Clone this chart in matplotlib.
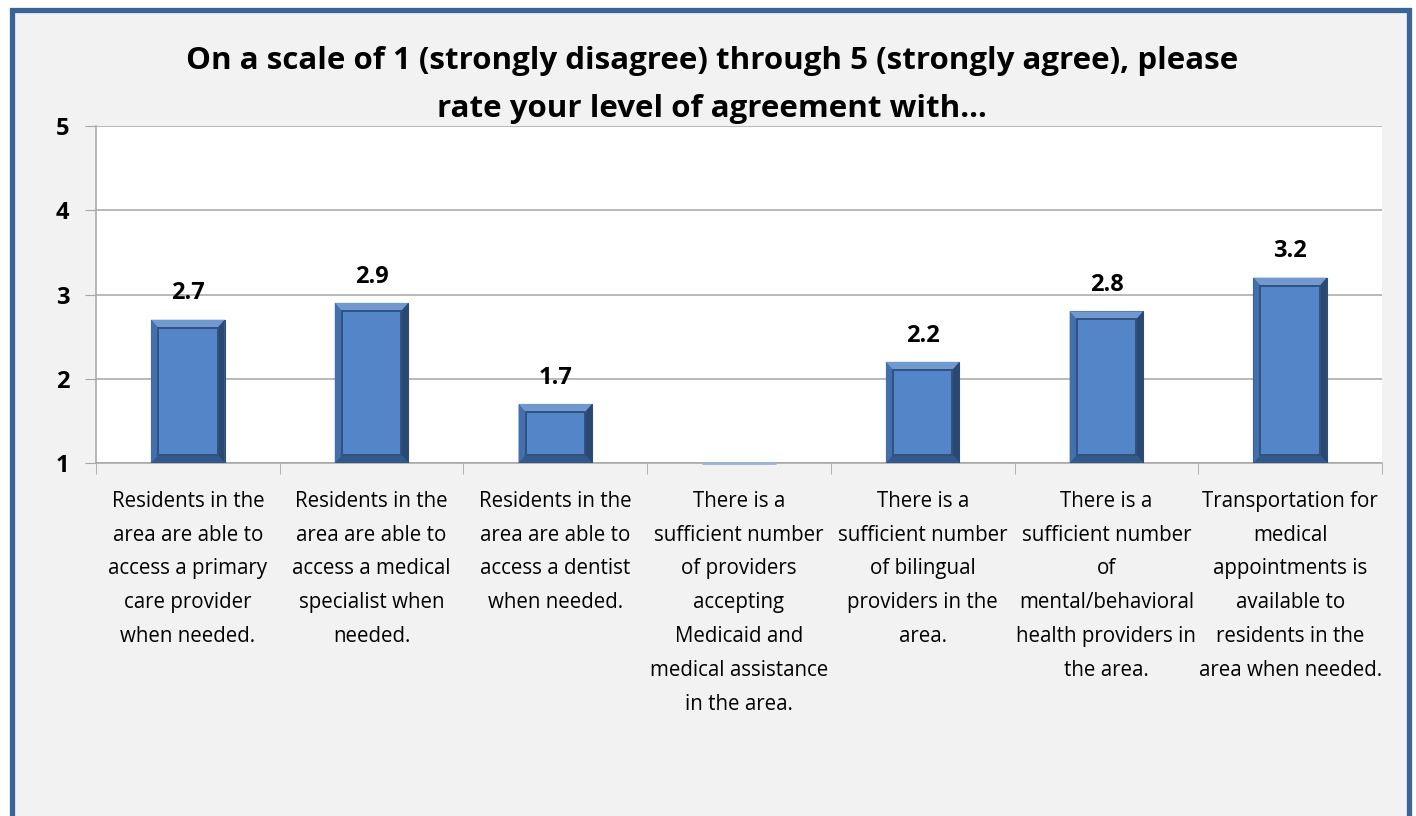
import numpy as np
import matplotlib.pyplot as plt
from matplotlib.patches import Polygon, Rectangle

plt.rcParams['font.family'] = ['Open Sans', 'DejaVu Sans']

title = ("On a scale of 1 (strongly disagree) through 5 (strongly agree), please\n"
         "rate your level of agreement with...")

categories = [
    "Residents in the\narea are able to\naccess a primary\ncare provider\nwhen needed.",
    "Residents in the\narea are able to\naccess a medical\nspecialist when\nneeded.",
    "Residents in the\narea are able to\naccess a dentist\nwhen needed.",
    "There is a\nsufficient number\nof providers\naccepting\nMedicaid and\nmedical assistance\nin the area.",
    "There is a\nsufficient number\nof bilingual\nproviders in the\narea.",
    "There is a\nsufficient number\nof\nmental/behavioral\nhealth providers in\nthe area.",
    "Transportation for\nmedical\nappointments is\navailable to\nresidents in the\narea when needed.",
]
scores = [2.7, 2.9, 1.7, 1.0, 2.2, 2.8, 3.2]
y_ticks = [1, 2, 3, 4, 5]

fig = plt.figure(figsize=(14.16, 8.16), dpi=100, facecolor='white')

# grey panel with blue frame (bottom runs off the canvas)
frame = Rectangle((12 / 1416, -0.05), 1397 / 1416, 1.05 - 10 / 816,
                  transform=fig.transFigure, facecolor='#F2F2F2',
                  edgecolor='#3B6496', linewidth=3.8, zorder=-1)
fig.patches.append(frame)

ax = fig.add_axes([96 / 1416, 1 - 463 / 816, (1382 - 96) / 1416, (463 - 126) / 816])
ax.set_zorder(1)
ax.set_facecolor('white')

x = np.arange(len(scores))
width = 0.4
base = 1.0

ax.set_xlim(-0.5, len(scores) - 0.5)
ax.set_ylim(1, 5)

# pixel sizes of the bevel converted to data units
px_x = (len(scores)) / ((1382 - 96))
px_y = 4.0 / (463 - 126)
bev_x = 7 * px_x
bev_y = 8 * px_y

for xi, v in zip(x, scores):
    x0, x1 = xi - width / 2, xi + width / 2
    y0, y1 = base, v
    if v - base <= 0.001:
        ax.plot([x0, x1], [base, base], color='#9DB3D6', lw=2, zorder=3,
                solid_capstyle='butt', clip_on=False)
        continue
    dy = min(bev_y, (y1 - y0) / 2)
    ix0, ix1, iy0, iy1 = x0 + bev_x, x1 - bev_x, y0 + dy, y1 - dy
    ax.add_patch(Rectangle((x0, y0), x1 - x0, y1 - y0, facecolor='#4A7BBE',
                           edgecolor='#2E4E78', lw=0.8, zorder=3))
    ax.add_patch(Polygon([(x0, y1), (x1, y1), (ix1, iy1), (ix0, iy1)],
                         closed=True, facecolor='#7199CF', edgecolor='none', zorder=4))
    ax.add_patch(Polygon([(x0, y0), (x0, y1), (ix0, iy1), (ix0, iy0)],
                         closed=True, facecolor='#4370AD', edgecolor='none', zorder=4))
    ax.add_patch(Polygon([(x1, y0), (x1, y1), (ix1, iy1), (ix1, iy0)],
                         closed=True, facecolor='#2A4870', edgecolor='none', zorder=4))
    ax.add_patch(Polygon([(x0, y0), (x1, y0), (ix1, iy0), (ix0, iy0)],
                         closed=True, facecolor='#33598B', edgecolor='none', zorder=4))
    ax.add_patch(Rectangle((ix0, iy0), ix1 - ix0, iy1 - iy0, facecolor='#5485C8',
                           edgecolor='#2F527F', lw=1.4, zorder=5))
    ax.text(xi, v + 0.17, f"{v:.1f}", ha='center', va='bottom',
            fontsize=17, fontweight='bold', color='black', zorder=6)

ax.set_yticks(y_ticks)
ax.set_yticklabels([str(t) for t in y_ticks], fontsize=17, fontweight='bold')
ax.yaxis.grid(True, color='#A6A6A6', lw=1.1)
ax.set_axisbelow(True)
ax.tick_params(axis='y', length=8, color='#A6A6A6', pad=11)

ax.set_xticks(x)
ax.set_xticklabels(categories, fontsize=14.8)
ax.set_xticks(np.arange(len(scores) + 1) - 0.5, minor=True)
ax.tick_params(axis='x', which='major', length=0, pad=20)
ax.tick_params(axis='x', which='minor', length=8, color='#A6A6A6')
for lab in ax.get_xticklabels():
    lab.set_linespacing(1.8)

for s in ['top', 'right']:
    ax.spines[s].set_visible(False)
for s in ['left', 'bottom']:
    ax.spines[s].set_color('#A6A6A6')
    ax.spines[s].set_linewidth(1.1)

fig.text(0.503, 1 - 85 / 816, title, ha='center', va='center',
         fontsize=22.5, fontweight='bold', linespacing=1.75)

fig.savefig('out.png', dpi=100, facecolor=fig.get_facecolor())
